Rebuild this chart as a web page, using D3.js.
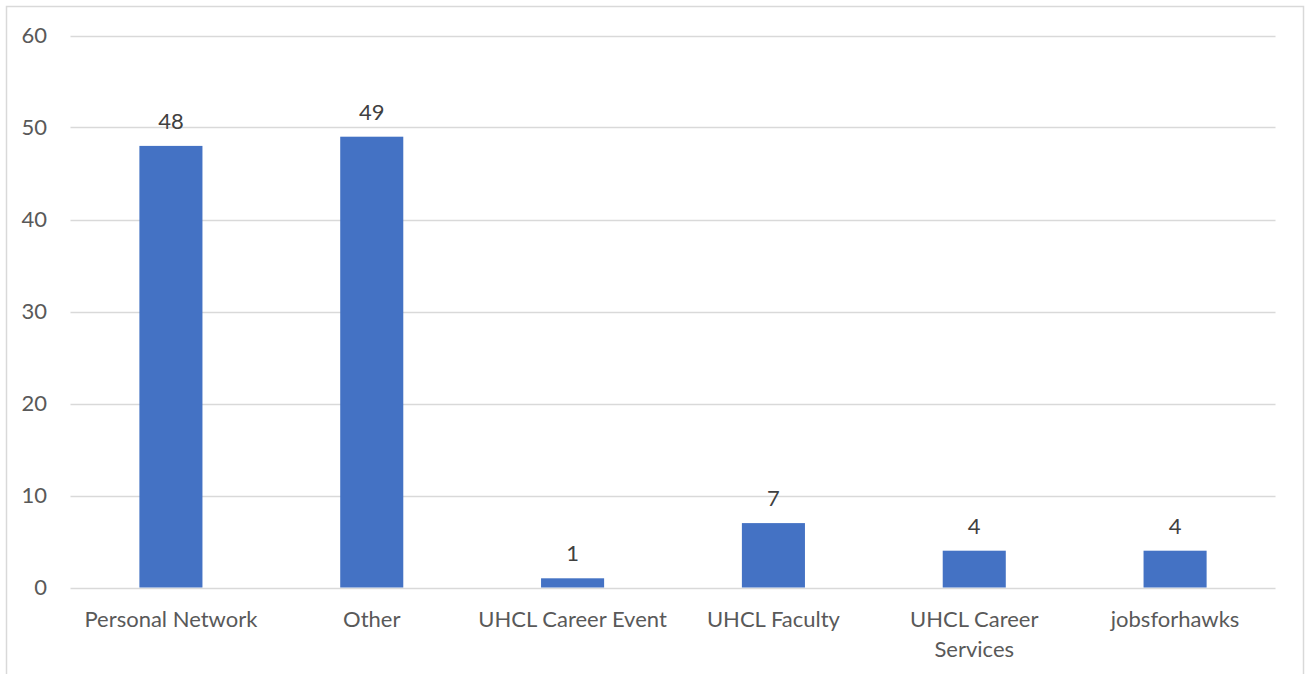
<!DOCTYPE html>
<html><head><meta charset="utf-8">
<script src="https://cdn.jsdelivr.net/npm/d3@7"></script>
<style>html,body{margin:0;padding:0;background:#fff;}svg{display:block;}</style>
</head><body>
<svg id="c" width="1305" height="674"></svg>
<script>
const categories = ["Personal Network","Other","UHCL Career Event","UHCL Faculty","UHCL Career Services","jobsforhawks"];
const values = [48,49,1,7,4,4];
const yTicks = [0,10,20,30,40,50,60];

const svg = d3.select("#c");
const font = "Lato, 'Open Sans', sans-serif";
const fs = 22;
const textColor = "#595959";

// outer border
svg.append("rect").attr("x",6.5).attr("y",6.5).attr("width",1297).attr("height",700)
  .attr("fill","#fff").attr("stroke","#d9d9d9").attr("stroke-width",1.5);

const x = d3.scaleBand().domain(categories).range([70.5,1275.5]).paddingInner(0.686).paddingOuter(0.343);
const y = d3.scaleLinear().domain([0,60]).range([587.5,35.5]);

// gridlines
svg.append("g").selectAll("line").data(yTicks).join("line")
  .attr("x1",70.5).attr("x2",1275.5)
  .attr("y1",d=>Math.round(y(d))+0.5).attr("y2",d=>Math.round(y(d))+0.5)
  .attr("stroke","#d9d9d9").attr("stroke-width",1.3);

// y tick labels
svg.append("g").selectAll("text").data(yTicks).join("text")
  .attr("x",47).attr("y",d=>y(d)).attr("dy","0.36em")
  .attr("text-anchor","end").attr("font-family",font).attr("font-size",fs)
  .attr("fill",textColor).text(d=>d);

// bars
svg.append("g").selectAll("rect").data(values).join("rect")
  .attr("x",(d,i)=>x(categories[i])).attr("width",x.bandwidth())
  .attr("y",d=>y(d)).attr("height",d=>y(0)-y(d))
  .attr("fill","#4472C4");

// data labels
svg.append("g").selectAll("text").data(values).join("text")
  .attr("x",(d,i)=>x(categories[i])+x.bandwidth()/2).attr("y",d=>y(d)-17)
  .attr("text-anchor","middle").attr("font-family",font).attr("font-size",fs)
  .attr("fill","#404040").text(d=>d);

// category labels (wrap)
const cat = svg.append("g");
const baseY = 627;
categories.forEach((c,i)=>{
  const cx = x(c)+x.bandwidth()/2;
  const t = cat.append("text").attr("x",cx).attr("y",baseY)
    .attr("text-anchor","middle").attr("font-family",font).attr("font-size",fs)
    .attr("fill",textColor);
  const words = c.split(" ");
  const limit = words.length>2 && c.length>18 ? 150 : 400;
  let line = [], ts = t.append("tspan").attr("x",cx).attr("y",baseY), lineNo=0;
  words.forEach(w=>{
    line.push(w); ts.text(line.join(" "));
    if (ts.node().getComputedTextLength() > limit && line.length>1){
      line.pop(); ts.text(line.join(" ")); line=[w]; lineNo++;
      ts = t.append("tspan").attr("x",cx).attr("y",baseY+lineNo*30).text(w);
    }
  });
});
</script>
</body></html>
